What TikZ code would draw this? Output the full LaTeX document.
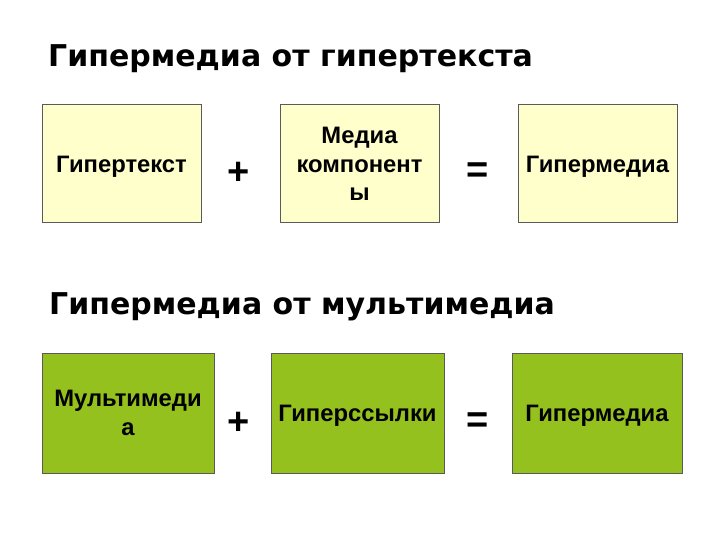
\documentclass[tikz,border=0pt]{standalone}
\usepackage{fontspec}
\usepackage{xcolor}
\usepackage{tikz}
\setmainfont{Liberation Sans}
\newfontfamily\headfont{DejaVu Sans}
\definecolor{paleyellow}{HTML}{FFFFCC}
\definecolor{leafgreen}{HTML}{95C11F}
\definecolor{boxedge}{HTML}{5A5A5A}
\tikzstyle{box} = [draw=boxedge, line width=1pt, align=center, inner sep=2pt, text depth=0pt, font=\bfseries\fontsize{23.8}{28.5}\selectfont]
\tikzstyle{topbox} = [box, fill=paleyellow, minimum width=159pt, minimum height=118pt]
\tikzstyle{lowbox} = [box, fill=leafgreen, minimum height=120pt]
\tikzstyle{sign} = [font=\bfseries\fontsize{38}{38}\selectfont]
\tikzstyle{heading} = [anchor=base west, inner sep=0pt, font=\headfont\bfseries\fontsize{30}{30}\selectfont]

\begin{document}
\begin{tikzpicture}[x=1pt, y=-1pt]
        \useasboundingbox (0,0) rectangle (720,540);
        % hypertext + media = hypermedia
        \node[heading] at (48,67) (h1) {Гипермедиа от гипертекста};
        \node[topbox] at (121.5,164) (text) {Гипертекст};
        \node[topbox] at (359.5,164) (media) {Медиа\\компонент\\ы};
        \node[topbox] at (597.5,164) (hm1) {Гипермедиа};
        \node[sign] at (239,173) (plus1) {+};
        \node[sign] at (478,173) (eq1) {=};

        % multimedia + links = hypermedia
        \node[heading] at (49,314) (h2) {Гипермедиа от мультимедиа};
        \node[lowbox, minimum width=172pt] at (128,413) (multi) {Мультимеди\\а};
        \node[lowbox, minimum width=173pt] at (357.5,413) (links) {Гиперссылки};
        \node[lowbox, minimum width=170pt] at (597,413) (hm2) {Гипермедиа};
        \node[sign] at (239,423) (plus2) {+};
        \node[sign] at (478,423) (eq2) {=};
\end{tikzpicture}
\end{document}
